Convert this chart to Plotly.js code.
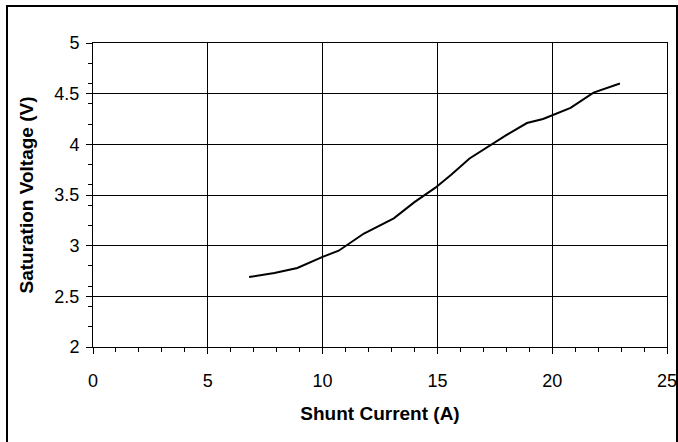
<!DOCTYPE html>
<html>
<head>
<meta charset="utf-8">
<script src="https://cdn.plot.ly/plotly-3.0.1.min.js"></script>
<style>
  html, body { margin: 0; padding: 0; background: #fff; }
  #wrap { position: relative; width: 678px; height: 442px; overflow: hidden; }
  #chart { position: absolute; left: 0; top: 0; width: 678px; height: 442px; }
  #frame { position: absolute; left: 6px; top: 5px; width: 668px; height: 460px;
           border: 2px solid #000; pointer-events: none; }
</style>
</head>
<body>
<div id="wrap">
  <div id="chart"></div>
  <div id="frame"></div>
</div>
<script>
const shuntCurrent = [6.8, 7.9, 8.9, 10.0, 10.7, 11.8, 13.1, 14.0, 14.9, 15.6, 16.4, 17.3, 18.0, 18.9, 19.6, 20.8, 21.8, 22.95];
const saturationVoltage = [2.69, 2.73, 2.78, 2.89, 2.95, 3.12, 3.27, 3.43, 3.57, 3.70, 3.86, 3.99, 4.09, 4.21, 4.25, 4.36, 4.51, 4.60];
const xTickVals = [0, 5, 10, 15, 20, 25];
const yTickVals = [2, 2.5, 3, 3.5, 4, 4.5, 5];
const yTickText = ['2', '2.5', '3', '3.5', '4', '4.5', '5'];

const font = 'Liberation Sans, Arial, sans-serif';

const trace = {
  x: shuntCurrent,
  y: saturationVoltage,
  type: 'scatter',
  mode: 'lines',
  line: { color: '#000', width: 2 },
  hoverinfo: 'skip'
};

const layout = {
  width: 678,
  height: 442,
  margin: { l: 93, r: 11, t: 43, b: 95 },
  paper_bgcolor: '#fff',
  plot_bgcolor: '#fff',
  showlegend: false,
  font: { family: font, color: '#000', size: 18 },
  xaxis: {
    range: [0, 25],
    tickvals: xTickVals,
    ticktext: xTickVals.map(String),
    showgrid: true,
    gridcolor: '#000',
    gridwidth: 1,
    zeroline: false,
    showline: true,
    linecolor: '#000',
    linewidth: 1,
    mirror: true,
    ticks: 'outside',
    ticklen: 6,
    tickcolor: '#000',
    ticklabelstandoff: 11,
    tickfont: { family: font, size: 18, color: '#000' },
    minor: { dtick: 1, ticks: 'outside', ticklen: 4, tickcolor: '#000', showgrid: false },
    title: { text: '<b>Shunt Current (A)</b>', font: { family: font, size: 19, color: '#000' }, standoff: 17 }
  },
  yaxis: {
    range: [2, 5],
    tickvals: yTickVals,
    ticktext: yTickText,
    showgrid: true,
    gridcolor: '#000',
    gridwidth: 1,
    zeroline: false,
    showline: true,
    linecolor: '#000',
    linewidth: 1,
    mirror: true,
    ticks: 'outside',
    ticklen: 6,
    tickcolor: '#000',
    ticklabelstandoff: 3,
    tickfont: { family: font, size: 18, color: '#000' },
    minor: { tick0: 2, dtick: 0.2, ticks: 'outside', ticklen: 4, tickcolor: '#000', showgrid: false },
    title: { text: '<b>Saturation Voltage (V)</b>', font: { family: font, size: 19, color: '#000' }, standoff: 15 }
  }
};

Plotly.newPlot('chart', [trace], layout, { staticPlot: true, displayModeBar: false });
</script>
</body>
</html>
